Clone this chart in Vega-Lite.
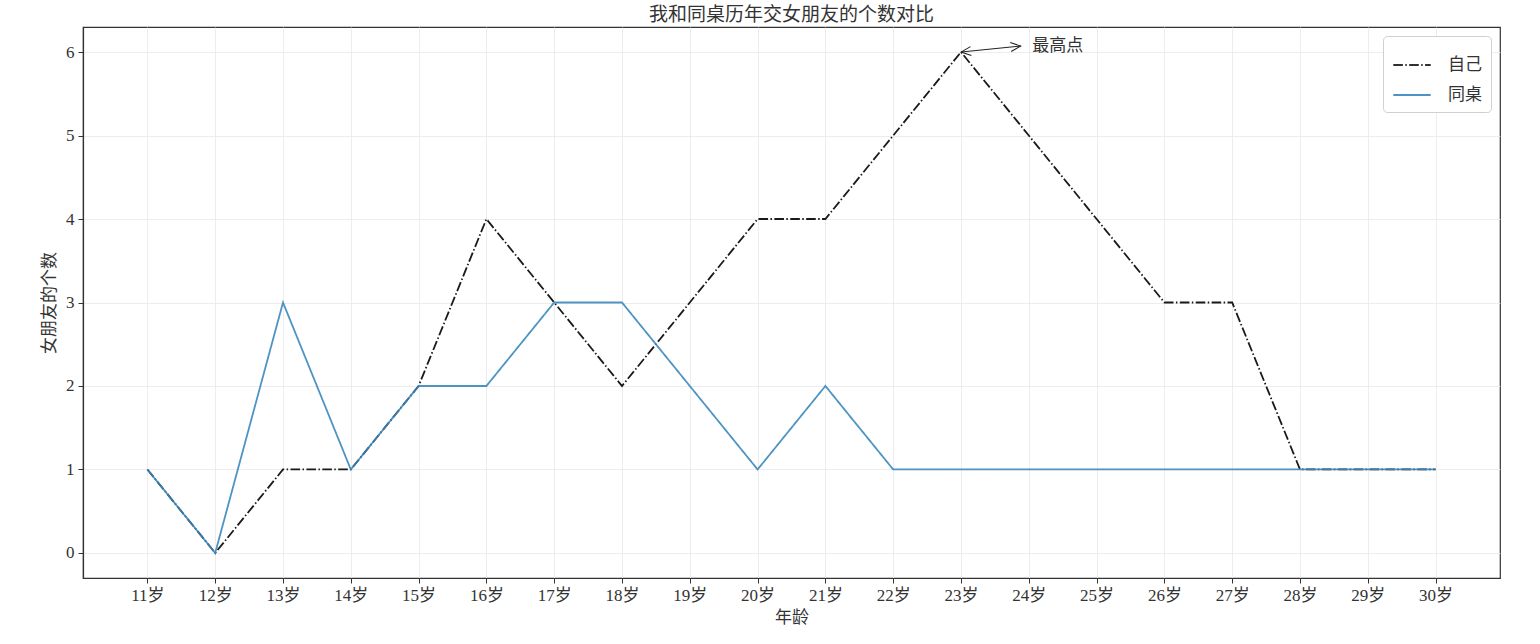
{
  "$schema": "https://vega.github.io/schema/vega-lite/v6.json",
  "autosize": {"type": "none"},
  "width": 1417,
  "height": 551,
  "padding": {"left": 83, "top": 27, "right": 40, "bottom": 66},
  "background": "white",
  "title": {
    "text": "我和同桌历年交女朋友的个数对比",
    "fontSize": 19,
    "font": "Noto Sans CJK SC",
    "fontWeight": "normal",
    "color": "#333",
    "offset": 2
  },
  "datasets": {
    "main": [
      {"age": 11, "person": "自己", "count": 1},
      {"age": 12, "person": "自己", "count": 0},
      {"age": 13, "person": "自己", "count": 1},
      {"age": 14, "person": "自己", "count": 1},
      {"age": 15, "person": "自己", "count": 2},
      {"age": 16, "person": "自己", "count": 4},
      {"age": 17, "person": "自己", "count": 3},
      {"age": 18, "person": "自己", "count": 2},
      {"age": 19, "person": "自己", "count": 3},
      {"age": 20, "person": "自己", "count": 4},
      {"age": 21, "person": "自己", "count": 4},
      {"age": 22, "person": "自己", "count": 5},
      {"age": 23, "person": "自己", "count": 6},
      {"age": 24, "person": "自己", "count": 5},
      {"age": 25, "person": "自己", "count": 4},
      {"age": 26, "person": "自己", "count": 3},
      {"age": 27, "person": "自己", "count": 3},
      {"age": 28, "person": "自己", "count": 1},
      {"age": 29, "person": "自己", "count": 1},
      {"age": 30, "person": "自己", "count": 1},
      {"age": 11, "person": "同桌", "count": 1},
      {"age": 12, "person": "同桌", "count": 0},
      {"age": 13, "person": "同桌", "count": 3},
      {"age": 14, "person": "同桌", "count": 1},
      {"age": 15, "person": "同桌", "count": 2},
      {"age": 16, "person": "同桌", "count": 2},
      {"age": 17, "person": "同桌", "count": 3},
      {"age": 18, "person": "同桌", "count": 3},
      {"age": 19, "person": "同桌", "count": 2},
      {"age": 20, "person": "同桌", "count": 1},
      {"age": 21, "person": "同桌", "count": 2},
      {"age": 22, "person": "同桌", "count": 1},
      {"age": 23, "person": "同桌", "count": 1},
      {"age": 24, "person": "同桌", "count": 1},
      {"age": 25, "person": "同桌", "count": 1},
      {"age": 26, "person": "同桌", "count": 1},
      {"age": 27, "person": "同桌", "count": 1},
      {"age": 28, "person": "同桌", "count": 1},
      {"age": 29, "person": "同桌", "count": 1},
      {"age": 30, "person": "同桌", "count": 1}
    ],
    "anno": [
      {"x1": 23, "y1": 6, "x2": 23.88, "y2": 6.072, "tx": 24.05, "ty": 6.075, "label": "最高点"}
    ]
  },
  "layer": [
    {
      "data": {"name": "main"},
      "transform": [{"filter": "datum.person === '自己'"}],
      "mark": {"type": "line", "strokeWidth": 1.8},
      "encoding": {
        "x": {
          "field": "age", "type": "quantitative",
          "scale": {"domain": [10.05, 30.95], "nice": false, "zero": false},
          "axis": {
            "values": [11,12,13,14,15,16,17,18,19,20,21,22,23,24,25,26,27,28,29,30],
            "labelExpr": "datum.value + '岁'",
            "title": "年龄",
            "titleFontSize": 17,
            "titlePadding": 6,
            "labelPadding": 4
          }
        },
        "y": {
          "field": "count", "type": "quantitative",
          "scale": {"domain": [-0.3, 6.3], "nice": false, "zero": false},
          "axis": {
            "values": [0,1,2,3,4,5,6],
            "format": "d",
            "title": "女朋友的个数",
            "titleFontSize": 17,
            "titlePadding": 7,
            "labelPadding": 4
          }
        },
        "color": {
          "field": "person", "type": "nominal",
          "scale": {"domain": ["自己", "同桌"], "range": ["#1a1a1a", "#3a88bd"]},
          "legend": {"title": null}
        },
        "strokeDash": {
          "field": "person", "type": "nominal",
          "scale": {"domain": ["自己", "同桌"], "range": [[9.6, 2.4, 1.5, 2.4], [1, 0]]},
          "legend": {"title": null}
        }
      }
    },
    {
      "data": {"name": "main"},
      "transform": [{"filter": "datum.person === '同桌'"}],
      "mark": {"type": "line", "strokeWidth": 1.8, "opacity": 0.9},
      "encoding": {
        "x": {"field": "age", "type": "quantitative"},
        "y": {"field": "count", "type": "quantitative"},
        "color": {"field": "person", "type": "nominal"},
        "strokeDash": {"field": "person", "type": "nominal"}
      }
    },
    {
      "data": {"name": "anno"},
      "mark": {"type": "rule", "color": "#222", "strokeWidth": 1},
      "encoding": {
        "x": {"field": "x1", "type": "quantitative"},
        "y": {"field": "y1", "type": "quantitative"},
        "x2": {"field": "x2"},
        "y2": {"field": "y2"}
      }
    },
    {
      "data": {"name": "anno"},
      "mark": {"type": "point", "shape": "M-1,-0.45L0,0L-1,0.45", "filled": false, "stroke": "#222", "strokeWidth": 1, "size": 400, "angle": -5.8, "opacity": 1},
      "encoding": {
        "x": {"field": "x2", "type": "quantitative"},
        "y": {"field": "y2", "type": "quantitative"}
      }
    },
    {
      "data": {"name": "anno"},
      "mark": {"type": "point", "shape": "M1,-0.45L0,0L1,0.45", "filled": false, "stroke": "#222", "strokeWidth": 1, "size": 400, "angle": -5.8, "opacity": 1},
      "encoding": {
        "x": {"field": "x1", "type": "quantitative"},
        "y": {"field": "y1", "type": "quantitative"}
      }
    },
    {
      "data": {"name": "anno"},
      "mark": {"type": "text", "align": "left", "baseline": "middle", "fontSize": 17, "font": "Noto Sans CJK SC", "color": "#333"},
      "encoding": {
        "x": {"field": "tx", "type": "quantitative"},
        "y": {"field": "ty", "type": "quantitative"},
        "text": {"field": "label"}
      }
    }
  ],
  "config": {
    "view": {"stroke": "#333", "strokeWidth": 1.2},
    "font": "Liberation Serif, Noto Sans CJK SC",
    "axis": {
      "labelFont": "Liberation Serif, Noto Sans CJK SC",
      "labelFontSize": 17,
      "labelColor": "#333",
      "titleFont": "Noto Sans CJK SC",
      "titleFontWeight": "normal",
      "titleColor": "#333",
      "domainColor": "#333",
      "domainWidth": 1.2,
      "tickColor": "#333",
      "tickSize": 5,
      "gridColor": "#e8e8e8",
      "gridWidth": 0.8
    },
    "legend": {
      "orient": "top-right",
      "offset": 9,
      "padding": 9,
      "strokeColor": "#d0d0d0",
      "fillColor": "white",
      "cornerRadius": 4,
      "labelFont": "Noto Sans CJK SC",
      "labelFontSize": 17,
      "labelColor": "#333",
      "symbolType": "stroke",
      "symbolSize": 1400,
      "symbolStrokeWidth": 1.8,
      "rowPadding": 2,
      "labelOffset": 16
    }
  }
}
